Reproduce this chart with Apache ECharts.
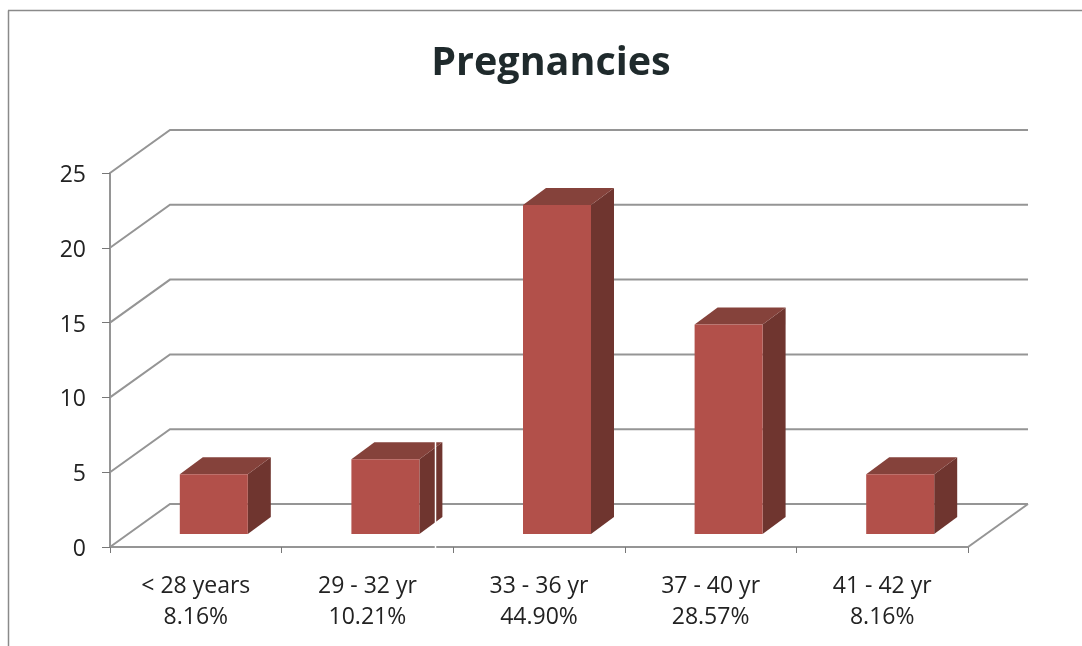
<!DOCTYPE html>
<html><head><meta charset="utf-8">
<style>html,body{margin:0;padding:0;background:#fff}#c{width:1082px;height:646px}</style>
<script src="https://cdn.jsdelivr.net/npm/echarts@6/dist/echarts.min.js"></script>
</head><body><div id="c"></div>
<script>
const categories = ['< 28 years\n8.16%', '29 - 32 yr\n10.21%', '33 - 36 yr\n44.90%', '37 - 40 yr\n28.57%', '41 - 42 yr\n8.16%'];
const values = [4, 5, 22, 14, 4];
const yTicks = [0, 5, 10, 15, 20, 25];
const titleText = 'Pregnancies';

const FONT = '"Open Sans","Noto Sans",sans-serif';
const LINE = '#959595';
const chart = echarts.init(document.getElementById('c'), null, {renderer: 'canvas'});

function wallItem(params, api) {
  const cs = params.coordSys;
  const y = api.coord([0, api.value(0)])[1];
  const x = cs.x, w = cs.width, dx = 60, dy = 43;
  const style = {fill: 'none', stroke: LINE, lineWidth: 2};
  const children = [{type: 'polyline', shape: {points: [[x, y], [x + dx, y - dy], [x + w + dx, y - dy]]}, style}];
  if (api.value(0) === 0) {
    children.push({type: 'line', shape: {x1: x + w, y1: y, x2: x + w + dx, y2: y - dy}, style});
  }
  return {type: 'group', children};
}

function barItem(params, api) {
  const c = api.coord([api.value(0), 0]);
  const t = api.coord([api.value(0), api.value(1)]);
  const ox = 18, oy = 13, hw = 34, dx = 23, dy = 17;
  const l = c[0] + ox - hw, r = c[0] + ox + hw, b = c[1] - oy, top = t[1] - oy;
  return {type: 'group', children: [
    {type: 'polygon', shape: {points: [[r, b], [r + dx, b - dy], [r + dx, top - dy], [r, top]]}, style: {fill: '#6f352f'}},
    {type: 'polygon', shape: {points: [[l, top], [l + dx, top - dy], [r + dx, top - dy], [r, top]]}, style: {fill: '#85423b'}},
    {type: 'rect', shape: {x: l, y: top, width: r - l, height: b - top}, style: {fill: '#b2504a'}}
  ]};
}

chart.setOption({
  animation: false,
  backgroundColor: '#fff',
  title: {text: titleText, left: 546, top: 39, textAlign: 'center',
    textStyle: {fontFamily: FONT, fontWeight: 'bold', fontSize: 39.5, color: '#1f2a2c'}},
  grid: {left: 110, right: 114, top: 173, bottom: 99},
  xAxis: {type: 'category', data: categories,
    axisLine: {lineStyle: {color: LINE, width: 2}},
    axisTick: {show: true, length: 6, lineStyle: {color: '#777', width: 1}},
    axisLabel: {margin: 24, fontFamily: FONT, fontSize: 23, lineHeight: 31, color: '#222'}},
  yAxis: {type: 'value', min: 0, max: 25, interval: 5,
    splitLine: {show: false},
    axisLine: {show: true, lineStyle: {color: LINE, width: 2}},
    axisTick: {show: true, length: 8, lineStyle: {color: '#777', width: 1}},
    axisLabel: {margin: 24, verticalAlign: 'top', lineHeight: 5, fontFamily: FONT, fontSize: 23, color: '#222'}},
  series: [
    {type: 'custom', renderItem: wallItem, data: yTicks.map(v => [v]), encode: {y: 0}, silent: true, clip: false, z: 1},
    {type: 'custom', renderItem: barItem, data: values.map((v, i) => [i, v]), encode: {x: 0, y: 1}, clip: false, z: 3}
  ],
  graphic: [
    {type: 'line', silent: true, z: 10, shape: {x1: 8.5, y1: 646, x2: 8.5, y2: 10.5}, style: {stroke: '#8a8a8a', lineWidth: 1.5}},
    {type: 'line', silent: true, z: 10, shape: {x1: 8, y1: 10.5, x2: 1082, y2: 10.5}, style: {stroke: '#8a8a8a', lineWidth: 1.5}},
    {type: 'line', silent: true, z: 10, shape: {x1: 435.5, y1: 441, x2: 435.5, y2: 550}, style: {stroke: '#fff', lineWidth: 1.5}}
  ]
});
</script></body></html>
